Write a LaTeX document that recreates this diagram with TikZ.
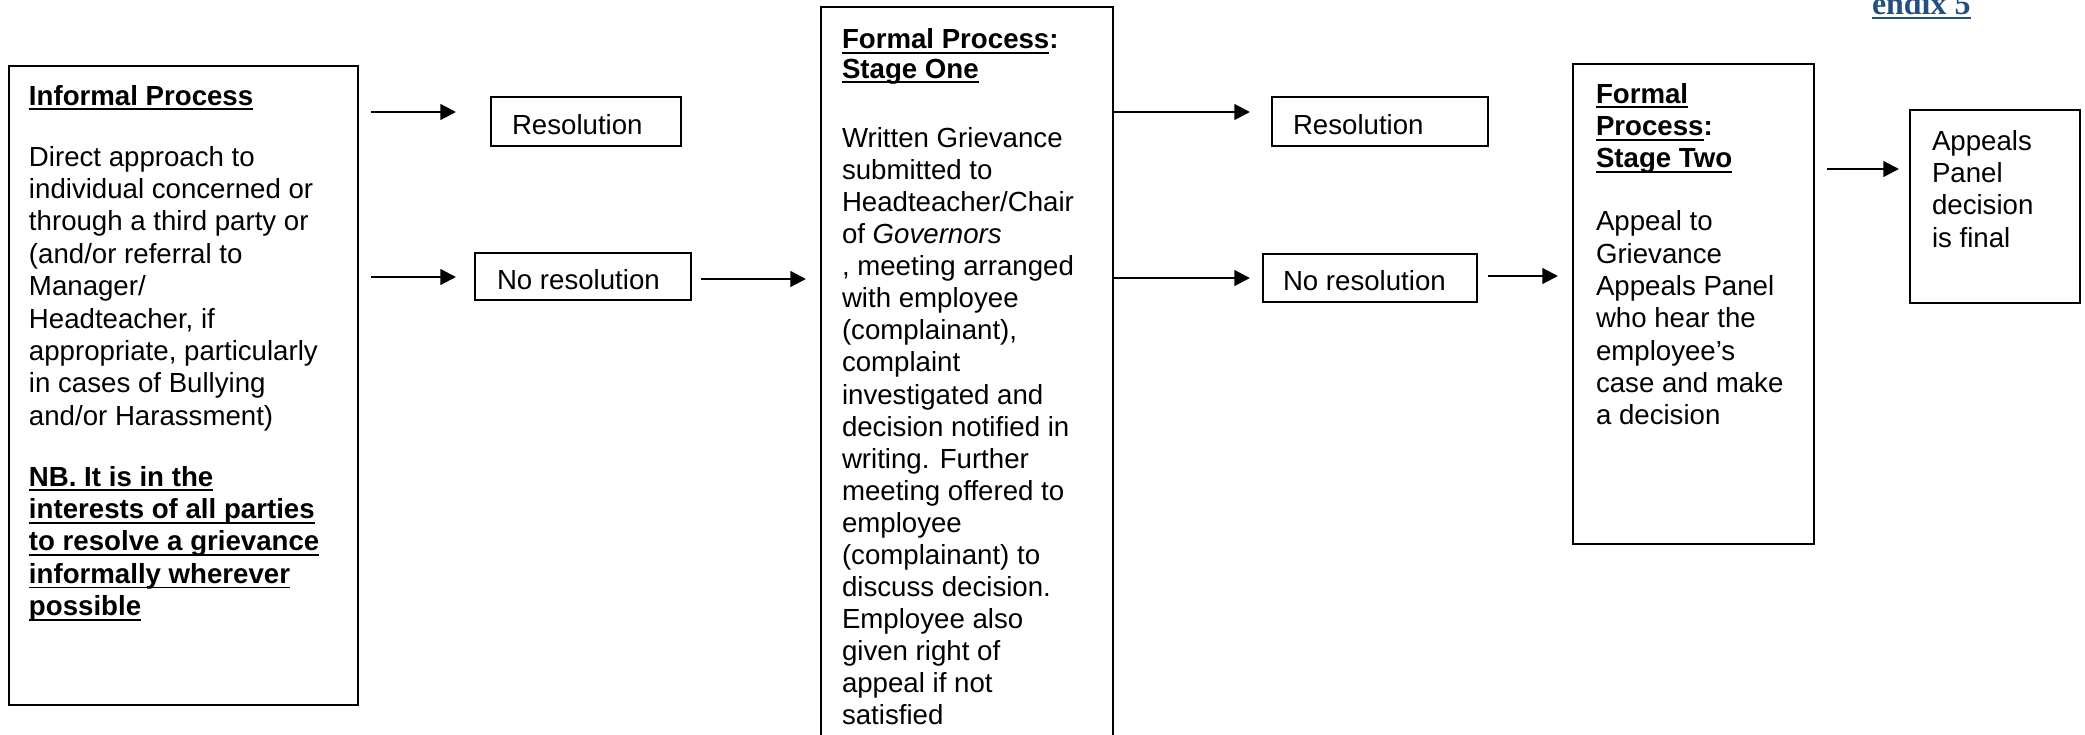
\documentclass[tikz,border=0pt]{standalone}
\usepackage{fontspec}
\setmainfont{Liberation Sans}
\newfontfamily\blueserif{Liberation Serif}
\usetikzlibrary{arrows.meta}
\definecolor{appblue}{HTML}{24507F}
\newcommand{\myul}[1]{\setbox0\hbox{#1}\rlap{\rule[-1.9pt]{\wd0}{0.7pt}}\box0}
\newcommand{\topstrut}{\rule{0pt}{8pt}}
\begin{document}
\begin{tikzpicture}[x=0.36pt,y=-0.36pt,
  box/.style={draw, line width=0.75pt, inner sep=0pt, outer sep=0pt},
  txt/.style={inner sep=0pt, outer sep=0pt, align=left, font=\fontsize{9.95}{11.65}\selectfont},
  arr/.style={-{Triangle[length=5.6pt,width=5.6pt]}, line width=0.8pt}]
\useasboundingbox (0,0) rectangle (2085,735);
\clip (0,0) rectangle (2085,735);

% boxes
\node[box, minimum width=125.64pt, minimum height=230.04pt] (inf) at (183.5,385.5) {};
\node[box, minimum width=68.4pt, minimum height=17.64pt] (res1) at (586,121.5) {};
\node[box, minimum width=77.76pt, minimum height=16.92pt] (nores1) at (583,276.5) {};
\node[box, minimum width=105.12pt, minimum height=271.08pt] (s1) at (967,383.5) {};
\node[box, minimum width=77.76pt, minimum height=17.64pt] (res2) at (1380,121.5) {};
\node[box, minimum width=77.04pt, minimum height=17.28pt] (nores2) at (1370,278) {};
\node[box, minimum width=86.76pt, minimum height=172.8pt] (s2) at (1693.5,304) {};
\node[box, minimum width=61.2pt, minimum height=69.48pt] (app) at (1995,206.5) {};

% texts
\node[txt, anchor=north west] (inft) at (29,82.8) {\topstrut\textbf{\myul{Informal Process}}\\[10.4pt]
Direct approach to\\
individual concerned or\\
through a third party or\\
(and/or referral to\\
Manager/\\
Headteacher, if\\
appropriate, particularly\\
in cases of Bullying\\
and/or Harassment)\\[10.3pt]
\textbf{\myul{NB. It is in the}}\\
\textbf{\myul{interests of all parties}}\\
\textbf{\myul{to resolve a grievance}}\\
\textbf{\myul{informally wherever}}\\
\textbf{\myul{possible}}};

\node[txt, anchor=base west] (res1t) at (512,135) {Resolution};
\node[txt, anchor=base west] (nores1t) at (497,290) {No resolution};

\node[txt, anchor=north west, font=\fontsize{9.95}{11.55}\selectfont] (s1t) at (842,26.5) {\topstrut\textbf{\myul{Formal Process}:}\\[-1pt]
\textbf{\myul{Stage One}}\\[13.4pt]
Written Grievance\\
submitted to\\
Headteacher/Chair\\
of \textit{Governors}\\
, meeting arranged\\
with employee\\
(complainant),\\
complaint\\
investigated and\\
decision notified in\\
writing. Further\\
meeting offered to\\
employee\\
(complainant) to\\
discuss decision.\\
Employee also\\
given right of\\
appeal if not\\
satisfied};

\node[txt, anchor=base west] (res2t) at (1293,135) {Resolution};
\node[txt, anchor=base west] (nores2t) at (1283,291) {No resolution};

\node[txt, anchor=north west] (s2t) at (1596,80.8) {\topstrut\textbf{\myul{Formal}}\\
\textbf{\myul{Process}:}\\
\textbf{\myul{Stage Two}}\\[11pt]
Appeal to\\
Grievance\\
Appeals Panel\\
who hear the\\
employee’s\\
case and make\\
a decision};

\node[txt, anchor=north west] (appt) at (1932,127.8) {\topstrut Appeals\\
Panel\\
decision\\
is final};

\node[inner sep=0pt, outer sep=0pt, anchor=base west, text=appblue,
  font=\blueserif\bfseries\fontsize{11.5}{13}\selectfont] (appx) at (1872,15)
  {\setbox0\hbox{endix 5}\rlap{\rule[-1.6pt]{\wd0}{0.7pt}}\box0};

% connectors
\coordinate (a1s) at (371,112);
\coordinate (a1e) at (456,112);
\coordinate (a2s) at (371,277);
\coordinate (a2e) at (456,277);
\coordinate (a3s) at (701,279);
\coordinate (a3e) at (806,279);
\coordinate (a4e) at (1250,112);
\coordinate (a5e) at (1250,278);
\coordinate (a6s) at (1488,276);
\coordinate (a6e) at (1558,276);
\coordinate (a7s) at (1827,169);
\coordinate (a7e) at (1899,169);
\draw[arr] (a1s) -- (a1e);
\draw[arr] (a2s) -- (a2e);
\draw[arr] (a3s) -- (a3e);
\draw[arr] (s1.east |- a4e) -- (a4e);
\draw[arr] (s1.east |- a5e) -- (a5e);
\draw[arr] (a6s) -- (a6e);
\draw[arr] (a7s) -- (a7e);
\end{tikzpicture}
\end{document}
